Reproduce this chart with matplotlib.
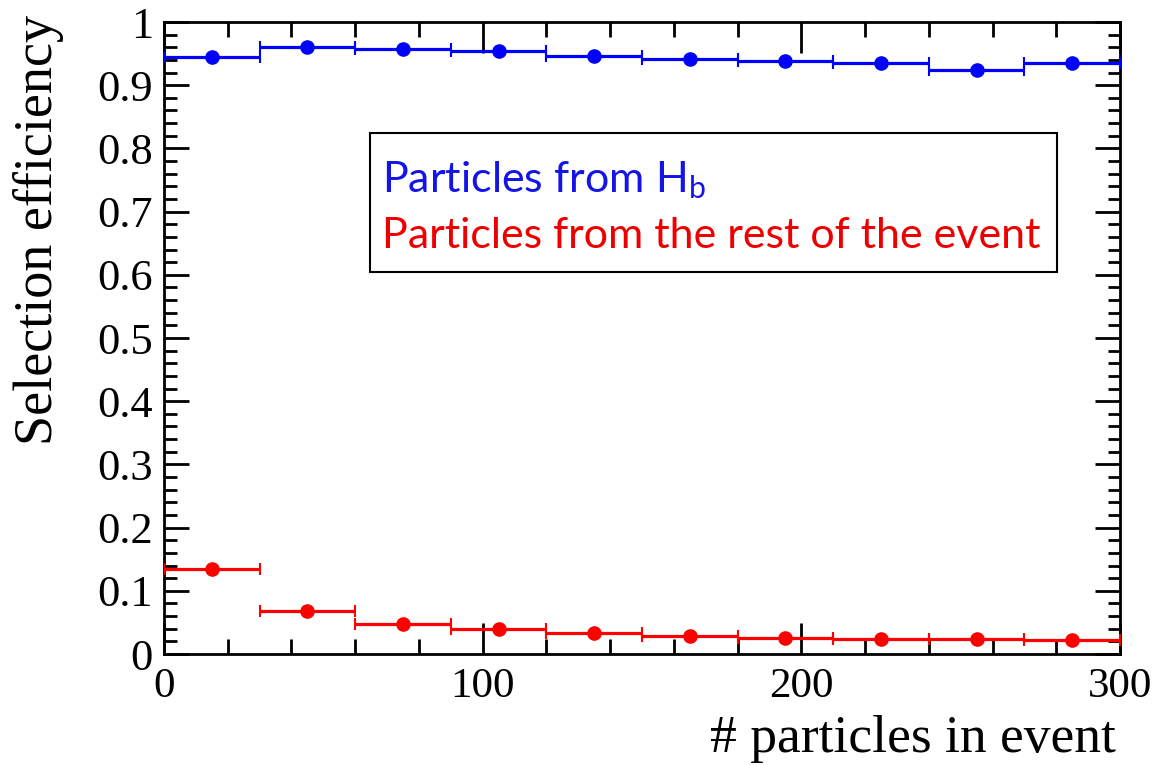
import matplotlib
matplotlib.use("Agg")
import matplotlib.pyplot as plt
from matplotlib.ticker import MultipleLocator
from matplotlib.patches import Rectangle

bin_edges = [0, 30, 60, 90, 120, 150, 180, 210, 240, 270, 300]
bin_centers = [15, 45, 75, 105, 135, 165, 195, 225, 255, 285]
eff_hb = [0.945, 0.961, 0.957, 0.954, 0.946, 0.942, 0.938, 0.935, 0.924, 0.935]
eff_rest = [0.134, 0.068, 0.048, 0.040, 0.033, 0.029, 0.026, 0.024, 0.023, 0.022]
label_hb = "Particles from H$_\\mathregular{b}$"
label_rest = "Particles from the rest of the event"

plt.rcParams['font.family'] = ['Liberation Serif', 'DejaVu Serif']
plt.rcParams['mathtext.fontset'] = 'custom'
plt.rcParams['mathtext.rm'] = 'Lato'

fig = plt.figure(figsize=(11.53, 7.65), dpi=100)
ax = fig.add_axes([164/1153, 1-654/765, (1120-164)/1153, (654-22)/765])

half_w = [(bin_edges[i+1]-bin_edges[i])/2 for i in range(len(bin_centers))]
for vals, col in [(eff_hb, '#0000ff'), (eff_rest, '#ff0000')]:
    ax.errorbar(bin_centers, vals, xerr=half_w, yerr=0.002, fmt='o', color=col,
                ms=9.5, elinewidth=2.3, capsize=4, capthick=1.5, clip_on=True, zorder=3)

ax.set_xlim(0, 300)
ax.set_ylim(0, 1)
ax.xaxis.set_major_locator(MultipleLocator(100))
ax.xaxis.set_minor_locator(MultipleLocator(20))
ax.yaxis.set_major_locator(MultipleLocator(0.1))
ax.yaxis.set_minor_locator(MultipleLocator(0.02))
ax.tick_params(which='both', direction='in', top=True, right=True, width=2)
ax.tick_params(axis='x', which='major', length=22, pad=10, labelsize=31)
ax.tick_params(axis='x', which='minor', length=11)
ax.tick_params(axis='y', which='major', length=18, pad=8, labelsize=32)
ax.tick_params(axis='y', which='minor', length=9)
for s in ax.spines.values():
    s.set_linewidth(2)

ax.set_yticks([0, 0.1, 0.2, 0.3, 0.4, 0.5, 0.6, 0.7, 0.8, 0.9, 1.0])
ax.set_yticklabels(['0', '0.1', '0.2', '0.3', '0.4', '0.5', '0.6', '0.7', '0.8', '0.9', '1'])

ax.set_xlabel('# particles in event', fontsize=38.5, loc='right', labelpad=6)
ax.xaxis.label.set_x(0.996)
ax.set_ylabel('Selection efficiency', fontsize=39, loc='top', labelpad=24)
ax.yaxis.label.set_y(1.012)

ax.add_patch(Rectangle((0.2155, 0.6044), 0.934-0.2155, 0.824-0.6044, transform=ax.transAxes,
                       fill=False, ec='black', lw=1.5, zorder=4))
ax.text(0.228, 0.731, label_hb, transform=ax.transAxes, color='#1414e6',
        fontsize=31, family='Lato', zorder=5)
ax.text(0.228, 0.642, label_rest, transform=ax.transAxes, color='#ee0000',
        fontsize=31, family='Lato', zorder=5)

fig.savefig('out.png', dpi=100)
